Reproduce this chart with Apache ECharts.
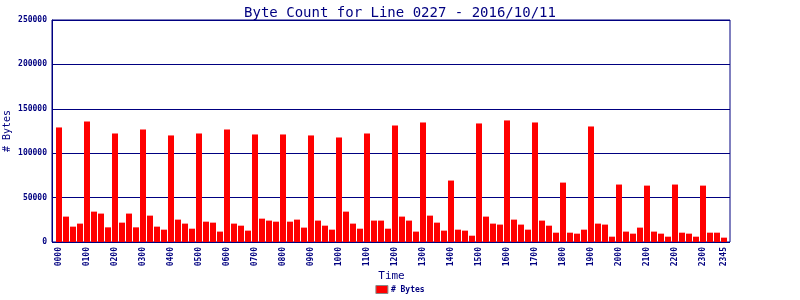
<!DOCTYPE html>
<html>
<head>
<meta charset="utf-8">
<script src="https://cdn.jsdelivr.net/npm/echarts@6/dist/echarts.min.js"></script>
<style>html,body{margin:0;padding:0;background:#fff;}#c{width:800px;height:300px;}</style>
</head>
<body>
<div id="c"></div>
<script>
var titleText = 'Byte Count for Line 0227 - 2016/10/11';
var seriesName = '# Bytes';
var times = [
'0000','0015','0030','0045','0100','0115','0130','0145','0200','0215','0230','0245',
'0300','0315','0330','0345','0400','0415','0430','0445','0500','0515','0530','0545',
'0600','0615','0630','0645','0700','0715','0730','0745','0800','0815','0830','0845',
'0900','0915','0930','0945','1000','1015','1030','1045','1100','1115','1130','1145',
'1200','1215','1230','1245','1300','1315','1330','1345','1400','1415','1430','1445',
'1500','1515','1530','1545','1600','1615','1630','1645','1700','1715','1730','1745',
'1800','1815','1830','1845','1900','1915','1930','1945','2000','2015','2030','2045',
'2100','2115','2130','2145','2200','2215','2230','2245','2300','2315','2330','2345'
];
var bytes = [
129000, 28600, 17300, 20700,
135700, 34200, 32000, 16500,
122200, 21800, 32000, 16500,
126700, 29700, 17300, 13900,
120000, 25200, 20700, 15000,
122200, 22900, 21800, 11700,
126700, 20700, 18400, 12800,
121100, 26300, 24100, 22900,
121100, 22900, 25200, 16200,
120000, 24100, 18400, 13900,
117700, 34200, 20700, 15000,
122200, 24100, 24100, 15000,
131200, 28600, 24100, 11700,
134600, 29700, 21800, 12800,
69200, 13900, 12800, 7100,
133500, 28600, 20700, 19600,
136900, 25200, 19600, 13900,
134600, 24100, 18400, 10500,
66900, 10500, 9400, 13900,
130100, 20700, 19600, 6000,
64700, 11700, 9400, 16200,
63500, 11700, 9400, 6000,
64700, 10500, 9400, 6000,
63500, 10500, 10500, 4900
];
var yMin = 0, yMax = 250000, yStep = 50000;

var navy = '#000080';
var mono = '"DejaVu Sans Mono", monospace';
var chart = echarts.init(document.getElementById('c'), null, {renderer: 'canvas'});
chart.setOption({
  animation: false,
  backgroundColor: '#ffffff',
  title: {
    text: titleText, left: 'center', top: 1,
    textStyle: {fontFamily: mono, fontSize: 14, fontWeight: 'normal', color: navy}
  },
  legend: {
    bottom: 1, left: 'center',
    icon: 'rect', itemWidth: 12, itemHeight: 8, itemGap: 4,
    data: [seriesName],
    itemStyle: {borderColor: '#888888', borderWidth: 1},
    textStyle: {fontFamily: mono, fontSize: 8, fontWeight: 'bold', color: navy, padding: [0,0,0,-2]}
  },
  grid: [
    {left: 52, right: 70, top: 20, bottom: 58, containLabel: false, outerBoundsMode: 'none',
     show: true, borderColor: navy, borderWidth: 1, backgroundColor: 'transparent'},
    {left: 55.5, right: 72.5, top: 20, bottom: 58, containLabel: false, outerBoundsMode: 'none'}
  ],
  xAxis: [
    {type: 'value', gridIndex: 0, min: 0, max: 1, show: false},
    {type: 'category', gridIndex: 1, data: times, boundaryGap: true,
     axisLine: {show: false}, axisTick: {show: false},
     name: 'Time', nameLocation: 'middle', nameGap: 29, nameMoveOverlap: false,
     nameTextStyle: {fontFamily: mono, fontSize: 11, color: navy},
     axisLabel: {
       rotate: 90, margin: 5, fontFamily: mono, fontSize: 8, fontWeight: 'bold', color: navy,
       interval: function (i) { return i % 4 === 0 || i === times.length - 1; }
     }}
  ],
  yAxis: [
    {type: 'value', gridIndex: 0, min: yMin, max: yMax, interval: yStep,
     name: '# Bytes', nameLocation: 'middle', nameGap: 40, nameMoveOverlap: false,
     nameTextStyle: {fontFamily: mono, fontSize: 10, color: navy},
     axisLine: {show: true, lineStyle: {color: navy, width: 1}},
     axisTick: {show: false},
     splitLine: {show: true, lineStyle: {color: navy, width: 1}},
     axisLabel: {margin: 5, fontFamily: mono, fontSize: 8, fontWeight: 'bold', color: navy,
       formatter: function (v) { return String(v); }}},
    {type: 'value', gridIndex: 1, min: yMin, max: yMax, show: false}
  ],
  series: [{
    name: seriesName, type: 'bar', xAxisIndex: 1, yAxisIndex: 1,
    data: bytes, barWidth: 6,
    itemStyle: {color: '#ff0000'}
  }]
});
</script>
</body>
</html>
